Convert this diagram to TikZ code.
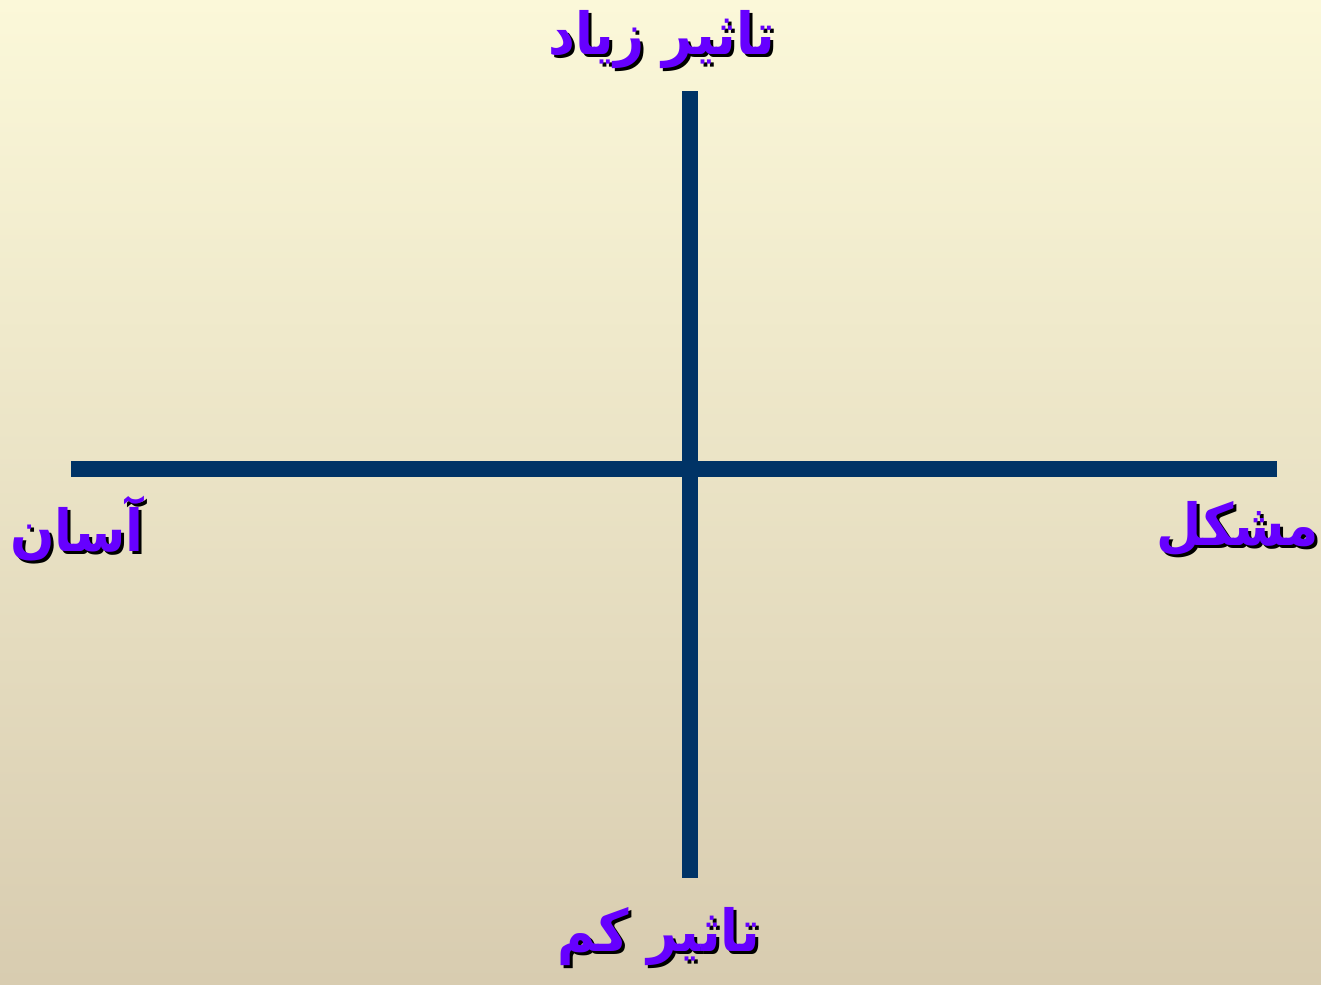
\documentclass[tikz,border=0pt]{standalone}
\usepackage{fontspec}
\newfontfamily\arabicfont[Script=Arabic]{DejaVu Sans}
\TeXXeTstate=1
\definecolor{bgtop}{HTML}{FBF8D9}
\definecolor{bgbot}{HTML}{D8CCB0}
\definecolor{axiscol}{HTML}{003366}
\definecolor{txtcol}{HTML}{6600FF}
\tikzset{
  axis/.style={draw=axiscol,line width=4.6pt},
  lbl/.style={font=\arabicfont\bfseries\fontsize{16.5pt}{20pt}\selectfont,text=txtcol,inner sep=0pt,xscale=0.9},
  lblshadow/.style={lbl,text=black},
}
\begin{document}
\begin{tikzpicture}[x=0.01cm,y=-0.01cm]
\shade[top color=bgtop,bottom color=bgbot] (0,0) rectangle (1321,984);
\useasboundingbox (0,0) rectangle (1321,984);
% axes
\coordinate (hl) at (71,469);
\coordinate (hr) at (1277,469);
\coordinate (vt) at (690,91);
\coordinate (vb) at (690,878);
\draw[axis] (hl) -- (hr);
\draw[axis] (vt) -- (vb);
% labels
\node[lblshadow] (tops) at (665,43) {\beginR تاثیر زیاد\endR};
\node[lbl] (top) at (662,40) {\beginR تاثیر زیاد\endR};
\node[lblshadow] (lefts) at (80,532) {\beginR آسان\endR};
\node[lbl] (left) at (77,529) {\beginR آسان\endR};
\node[lblshadow] (rights) at (1241,532) {\beginR مشکل\endR};
\node[lbl] (right) at (1238,529) {\beginR مشکل\endR};
\node[lblshadow] (bots) at (662,940) {\beginR تاثیر کم\endR};
\node[lbl] (bot) at (659,937) {\beginR تاثیر کم\endR};
\end{tikzpicture}
\end{document}
